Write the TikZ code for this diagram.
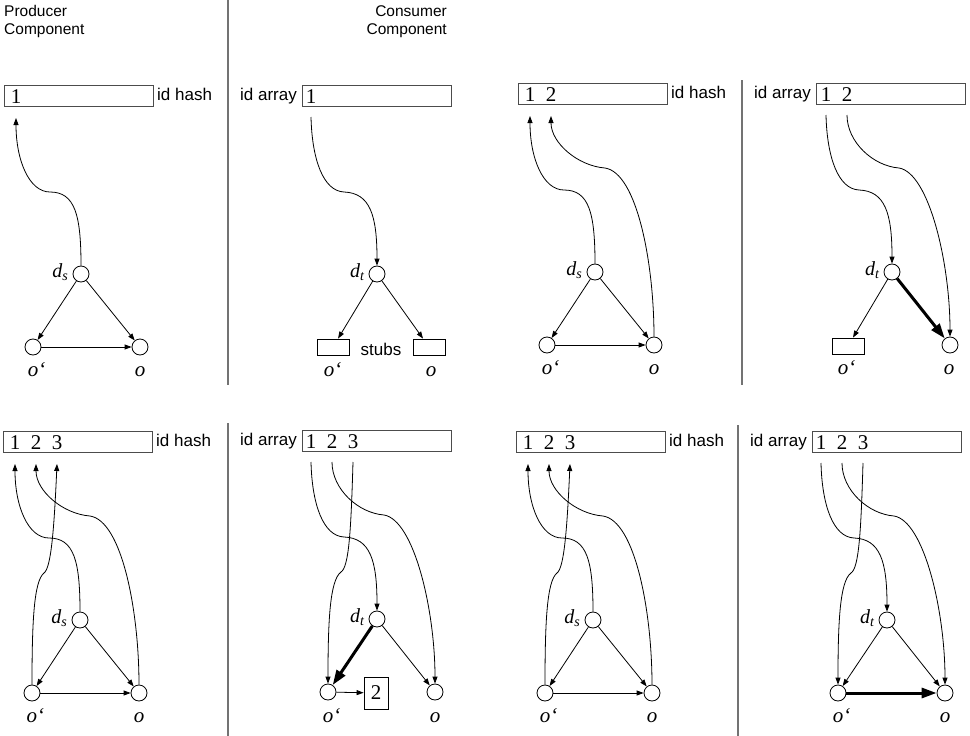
\documentclass[tikz,border=0pt]{standalone}
\usepackage{fontspec}
\setmainfont{Liberation Serif}
\setsansfont{Liberation Sans}
\usetikzlibrary{arrows.meta}
\begin{document}
\begin{tikzpicture}[x=1pt,y=-1pt,
  idbox/.style={draw=black!70, line width=0.9pt, minimum width=149pt, minimum height=21pt, inner sep=0pt, anchor=north west},
  dot/.style={circle, draw, fill=white, minimum size=16pt, inner sep=0pt, line width=0.8pt},
  stubbox/.style={draw, fill=white, minimum width=32pt, minimum height=16pt, inner sep=0pt, line width=0.8pt},
  lab/.style={font=\sffamily\fontsize{17}{20}\selectfont, inner sep=0pt},
  head/.style={font=\sffamily\fontsize{15.5}{18}\selectfont, inner sep=0pt},
  num/.style={font=\fontsize{21}{24}\selectfont, inner sep=0pt, anchor=base},
  var/.style={font=\itshape\fontsize{21}{24}\selectfont, inner sep=0pt, anchor=base},
  dlab/.style={font=\itshape\fontsize{20}{24}\selectfont, inner sep=0pt, anchor=base east},
  arr/.style={-{Triangle[length=7pt,width=5pt]}, line width=0.8pt},
  boldarr/.style={-{Triangle[length=15pt,width=10pt]}, line width=3pt},
  divider/.style={draw=black!55, line width=1.6pt}
]
\fill[white] (0,0) rectangle (970,736);
\useasboundingbox (0,0) rectangle (970,736);

% headers
\node[head, anchor=north west, align=left] (hprod) at (4,5) {Producer\\Component};
\node[head, anchor=north east, align=right] (hcons) at (447,5) {Consumer\\Component};

% dividers
\draw[divider] (228,0) -- (228,385);
\draw[divider] (742,80) -- (742,385);
\draw[divider] (228,423) -- (228,736);
\draw[divider] (738,425) -- (738,736);

% ---------- Panel 1 (producer, 1) ----------
\begin{scope}[shift={(4,85)}]
  \node[idbox] (b1) at (0,0) {};
  \node[num] (b1n1) at (12,18) {1};
  \node[lab, anchor=base west] (b1l) at (153,15) {id hash};
  \node[dot] (p1d) at (77,189) {};
  \node[dot] (p1a) at (29,262) {};
  \node[dot] (p1b) at (136,262) {};
  \node[dlab] (p1dl) at ([shift={(-4,3)}]p1d.west) {d\textsubscript{s}};
  \node[var] (p1al) at (29,291) {o\rlap{‘}};
  \node[var] (p1bl) at (136,291) {o};
  \coordinate (p1t1) at (12,33);
  \draw[arr] (p1d) -- (p1a);
  \draw[arr] (p1d) -- (p1b);
  \draw[arr] (p1a) -- (p1b);
  \draw[arr] (p1d.north) .. controls (77,130) and (71,107) .. (46,107) .. controls (25,107) and (12,75) .. (p1t1);
\end{scope}

% ---------- Panel 2 (consumer, 1) ----------
\begin{scope}[shift={(302,85)}]
  \node[idbox] (b2) at (0,0) {};
  \node[num] (b2n1) at (9,18) {1};
  \node[lab, anchor=base east] (b2l) at (-5,15) {id array};
  \node[dot] (p2d) at (75,189) {};
  \node[stubbox] (p2a) at (31,262) {};
  \node[stubbox] (p2b) at (127,262) {};
  \node[lab, anchor=base] (p2st) at (79,270) {stubs};
  \node[dlab] (p2dl) at ([shift={(-4,3)}]p2d.west) {d\textsubscript{t}};
  \node[var] (p2al) at (27,291) {o\rlap{‘}};
  \node[var] (p2bl) at (129,291) {o};
  \coordinate (p2s1) at (9,32);
  \draw[arr] (p2d) -- (p2a);
  \draw[arr] (p2d) -- (p2b);
  \draw[arr] (p2s1) .. controls (10,74) and (21,106) .. (42,107) .. controls (68,108) and (75,130) .. (p2d.north);
\end{scope}

% ---------- Panel 3 (producer, 1 2) ----------
\begin{scope}[shift={(518,83)}]
  \node[idbox] (b3) at (0,0) {};
  \node[num] (b3n1) at (12,18) {1};
  \node[num] (b3n2) at (33,18) {2};
  \node[lab, anchor=base west] (b3l) at (153,15) {id hash};
  \node[dot] (p3d) at (77,189) {};
  \node[dot] (p3a) at (29,262) {};
  \node[dot] (p3b) at (136,262) {};
  \node[dlab] (p3dl) at ([shift={(-4,3)}]p3d.west) {d\textsubscript{s}};
  \node[var] (p3al) at (29,291) {o\rlap{‘}};
  \node[var] (p3bl) at (136,291) {o};
  \coordinate (p3t1) at (12,33);
  \coordinate (p3t2) at (33,33);
  \draw[arr] (p3d) -- (p3a);
  \draw[arr] (p3d) -- (p3b);
  \draw[arr] (p3a) -- (p3b);
  \draw[arr] (p3d.north) .. controls (77,130) and (71,107) .. (46,107) .. controls (25,107) and (12,75) .. (p3t1);
  \draw[arr] (p3b.north) .. controls (136,180) and (119,90) .. (87,85) .. controls (60,83) and (33,60) .. (p3t2);
\end{scope}

% ---------- Panel 4 (consumer, 1 2) ----------
\begin{scope}[shift={(816,83)}]
  \node[idbox] (b4) at (0,0) {};
  \node[num] (b4n1) at (10,18) {1};
  \node[num] (b4n2) at (31,18) {2};
  \node[lab, anchor=base east] (b4l) at (-5,15) {id array};
  \node[dot] (p4d) at (76,189) {};
  \node[stubbox] (p4a) at (32,263) {};
  \node[dot] (p4b) at (134,262) {};
  \node[dlab] (p4dl) at ([shift={(-4,3)}]p4d.west) {d\textsubscript{t}};
  \node[var] (p4al) at (27,291) {o\rlap{‘}};
  \node[var] (p4bl) at (133,291) {o};
  \coordinate (p4s1) at (10,32);
  \coordinate (p4s2) at (31,32);
  \draw[arr] (p4d) -- (p4a);
  \draw[boldarr] (p4d) -- (p4b);
  \draw[arr] (p4s1) .. controls (11,74) and (22,106) .. (43,107) .. controls (69,108) and (76,130) .. (p4d.north);
  \draw[arr] (p4s2) .. controls (31,59) and (57,83) .. (83,85) .. controls (113,90) and (134,180) .. (p4b.north);
\end{scope}

% ---------- Panel 5 (producer, 1 2 3) ----------
\begin{scope}[shift={(3,431)}]
  \node[idbox] (b5) at (0,0) {};
  \node[num] (b5n1) at (12,18) {1};
  \node[num] (b5n2) at (33,18) {2};
  \node[num] (b5n3) at (54,18) {3};
  \node[lab, anchor=base west] (b5l) at (153,15) {id hash};
  \node[dot] (p5d) at (77,189) {};
  \node[dot] (p5a) at (29,262) {};
  \node[dot] (p5b) at (136,262) {};
  \node[dlab] (p5dl) at ([shift={(-4,3)}]p5d.west) {d\textsubscript{s}};
  \node[var] (p5al) at (29,291) {o\rlap{‘}};
  \node[var] (p5bl) at (136,291) {o};
  \coordinate (p5t1) at (12,33);
  \coordinate (p5t2) at (33,33);
  \coordinate (p5t3) at (54,33);
  \draw[arr] (p5d) -- (p5a);
  \draw[arr] (p5d) -- (p5b);
  \draw[arr] (p5a) -- (p5b);
  \draw[arr] (p5d.north) .. controls (77,130) and (71,107) .. (46,107) .. controls (25,107) and (12,75) .. (p5t1);
  \draw[arr] (p5b.north) .. controls (136,180) and (119,90) .. (87,85) .. controls (60,83) and (33,60) .. (p5t2);
  \draw[arr] (p5a.north) .. controls (29,190) and (31,150) .. (41,142) .. controls (48,137) and (51,100) .. (p5t3);
\end{scope}

% ---------- Panel 6 (consumer, 1 2 3) ----------
\begin{scope}[shift={(302,430)}]
  \node[idbox] (b6) at (0,0) {};
  \node[num] (b6n1) at (9,18) {1};
  \node[num] (b6n2) at (30,18) {2};
  \node[num] (b6n3) at (51,18) {3};
  \node[lab, anchor=base east] (b6l) at (-5,15) {id array};
  \node[dot] (p6d) at (75,189) {};
  \node[dot] (p6a) at (26,262) {};
  \node[dot] (p6b) at (133,262) {};
  \node[draw, line width=0.8pt, minimum width=24pt, minimum height=32pt, inner sep=0pt,
        font=\fontsize{21}{24}\selectfont] (p6c) at (74,263) {2};
  \node[dlab] (p6dl) at ([shift={(-4,3)}]p6d.west) {d\textsubscript{t}};
  \node[var] (p6al) at (26,292) {o\rlap{‘}};
  \node[var] (p6bl) at (133,292) {o};
  \coordinate (p6s1) at (9,32);
  \coordinate (p6s2) at (30,32);
  \coordinate (p6s3) at (51,32);
  \draw[boldarr] (p6d) -- (p6a);
  \draw[arr] (p6d) -- (p6b);
  \draw[arr] (p6a) -- (p6c);
  \draw[arr] (p6s1) .. controls (10,74) and (21,106) .. (42,107) .. controls (68,108) and (75,130) .. (p6d.north);
  \draw[arr] (p6s2) .. controls (30,59) and (56,83) .. (82,85) .. controls (112,90) and (133,180) .. (p6b.north);
  \draw[arr] (p6s3) .. controls (49,100) and (47,137) .. (39,142) .. controls (28,150) and (26,190) .. (p6a.north);
\end{scope}

% ---------- Panel 7 (producer, 1 2 3) ----------
\begin{scope}[shift={(516,431)}]
  \node[idbox] (b7) at (0,0) {};
  \node[num] (b7n1) at (12,18) {1};
  \node[num] (b7n2) at (33,18) {2};
  \node[num] (b7n3) at (54,18) {3};
  \node[lab, anchor=base west] (b7l) at (153,15) {id hash};
  \node[dot] (p7d) at (77,189) {};
  \node[dot] (p7a) at (29,262) {};
  \node[dot] (p7b) at (136,262) {};
  \node[dlab] (p7dl) at ([shift={(-4,3)}]p7d.west) {d\textsubscript{s}};
  \node[var] (p7al) at (29,291) {o\rlap{‘}};
  \node[var] (p7bl) at (136,291) {o};
  \coordinate (p7t1) at (12,33);
  \coordinate (p7t2) at (33,33);
  \coordinate (p7t3) at (54,33);
  \draw[arr] (p7d) -- (p7a);
  \draw[arr] (p7d) -- (p7b);
  \draw[arr] (p7a) -- (p7b);
  \draw[arr] (p7d.north) .. controls (77,130) and (71,107) .. (46,107) .. controls (25,107) and (12,75) .. (p7t1);
  \draw[arr] (p7b.north) .. controls (136,180) and (119,90) .. (87,85) .. controls (60,83) and (33,60) .. (p7t2);
  \draw[arr] (p7a.north) .. controls (29,190) and (31,150) .. (41,142) .. controls (48,137) and (51,100) .. (p7t3);
\end{scope}

% ---------- Panel 8 (consumer, 1 2 3) ----------
\begin{scope}[shift={(812,431)}]
  \node[idbox] (b8) at (0,0) {};
  \node[num] (b8n1) at (9,18) {1};
  \node[num] (b8n2) at (30,18) {2};
  \node[num] (b8n3) at (51,18) {3};
  \node[lab, anchor=base east] (b8l) at (-5,15) {id array};
  \node[dot] (p8d) at (75,189) {};
  \node[dot] (p8a) at (26,262) {};
  \node[dot] (p8b) at (133,262) {};
  \node[dlab] (p8dl) at ([shift={(-4,3)}]p8d.west) {d\textsubscript{t}};
  \node[var] (p8al) at (26,291) {o\rlap{‘}};
  \node[var] (p8bl) at (133,291) {o};
  \coordinate (p8s1) at (9,32);
  \coordinate (p8s2) at (30,32);
  \coordinate (p8s3) at (51,32);
  \draw[arr] (p8d) -- (p8a);
  \draw[arr] (p8d) -- (p8b);
  \draw[boldarr] (p8a) -- (p8b);
  \draw[arr] (p8s1) .. controls (10,74) and (21,106) .. (42,107) .. controls (68,108) and (75,130) .. (p8d.north);
  \draw[arr] (p8s2) .. controls (30,59) and (56,83) .. (82,85) .. controls (112,90) and (133,180) .. (p8b.north);
  \draw[arr] (p8s3) .. controls (49,100) and (47,137) .. (39,142) .. controls (28,150) and (26,190) .. (p8a.north);
\end{scope}
\end{tikzpicture}
\end{document}
